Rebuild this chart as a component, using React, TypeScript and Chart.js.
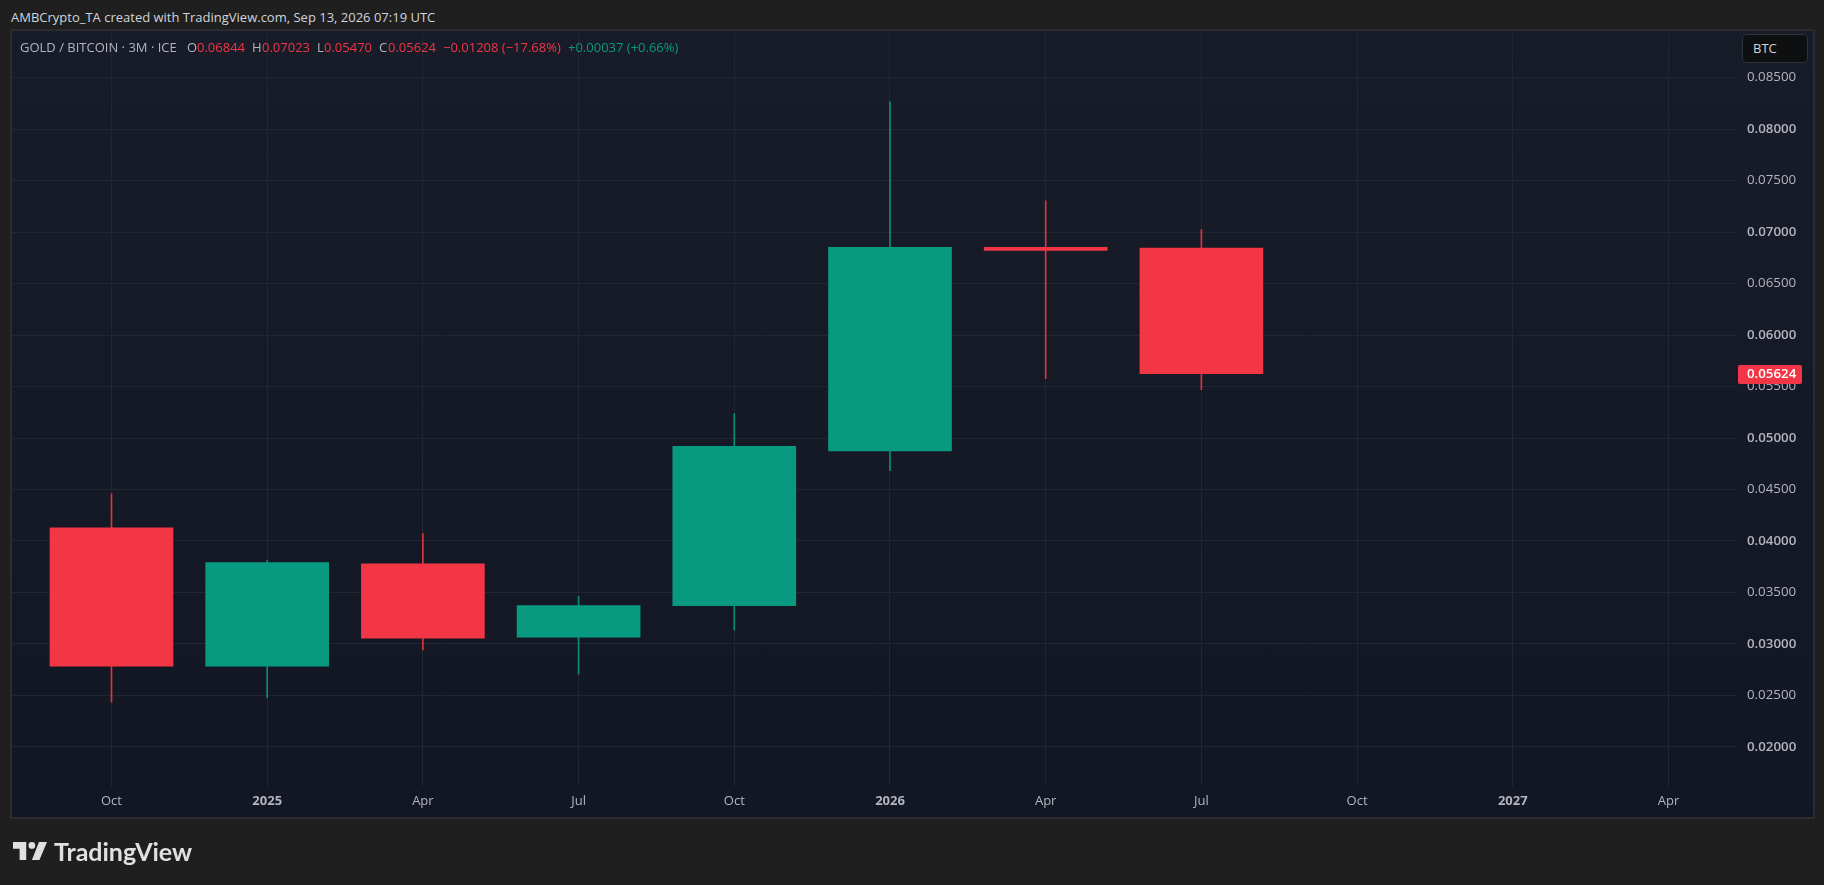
import React, { useEffect, useRef } from "react";
import { Chart, registerables } from "chart.js";

Chart.register(...registerables);

const QUARTER_LABELS = ["Oct", "2025", "Apr", "Jul", "Oct", "2026", "Apr", "Jul", "Oct", "2027", "Apr"];
const BOLD_LABELS = ["2025", "2026", "2027"];
const OPENS = [0.04129, 0.02785, 0.03779, 0.03067, 0.03372, 0.04875, 0.06852, 0.06844];
const HIGHS = [0.04457, 0.03813, 0.04073, 0.03463, 0.05236, 0.08263, 0.07303, 0.07023];
const LOWS = [0.02435, 0.0248, 0.02943, 0.02706, 0.03135, 0.04683, 0.05575, 0.0547];
const CLOSES = [0.02785, 0.0379, 0.03056, 0.03372, 0.0492, 0.06851, 0.06822, 0.05624];
const LAST_PRICE = 0.05624;

const UP = "#089981";
const DOWN = "#f23645";
const FONT = '"Open Sans", "Noto Sans", sans-serif';

const candleColors = OPENS.map((o, i) => (CLOSES[i] >= o ? UP : DOWN));
const wickColors = OPENS.map((o, i) => (CLOSES[i] >= o ? "rgba(8,153,129,0.9)" : "rgba(242,54,69,0.9)"));

const lastPricePlugin = {
  id: "lastPrice",
  afterDraw(chart: any) {
    const { ctx, scales } = chart;
    const y = scales.y.getPixelForValue(LAST_PRICE);
    ctx.save();
    ctx.fillStyle = DOWN;
    ctx.beginPath();
    ctx.roundRect(1738, Math.round(y) - 9, 64, 19, 2);
    ctx.fill();
    ctx.fillStyle = "#ffffff";
    ctx.font = "600 13.3px " + FONT;
    ctx.textBaseline = "middle";
    ctx.textAlign = "left";
    ctx.fillText(LAST_PRICE.toFixed(5), 1747, y + 0.5);
    ctx.restore();
  },
};

const abs = (x: number, y: number, color: string, size = 13): React.CSSProperties => ({
  position: "absolute",
  left: x,
  top: y,
  color,
  fontFamily: FONT,
  fontSize: size,
  lineHeight: "18px",
  whiteSpace: "nowrap",
});

export default function App() {
  const ref = useRef<HTMLCanvasElement>(null);
  useEffect(() => {
    document.body.style.margin = "0";
    document.body.style.background = "#1f1f1f";
    const chart = new Chart(ref.current!, {
      type: "bar",
      data: {
        datasets: [
          {
            label: "Wick",
            data: LOWS.map((l, i) => ({ x: i, y: [l, HIGHS[i]] })) as any,
            backgroundColor: wickColors,
            barThickness: 1,
            grouped: false,
          } as any,
          {
            label: "Body",
            data: OPENS.map((o, i) => ({ x: i, y: [o, CLOSES[i]] })) as any,
            backgroundColor: candleColors,
            barThickness: 123,
            grouped: false,
          } as any,
        ],
      },
      plugins: [lastPricePlugin],
      options: {
        animation: false,
        responsive: false,
        devicePixelRatio: 1,
        layout: { padding: { left: 12, top: 31.5, right: 11, bottom: 68.5 } },
        plugins: { legend: { display: false }, tooltip: { enabled: false } },
        scales: {
          x: {
            type: "linear",
            offset: false,
            min: -0.639,
            max: 10.44,
            afterFit: (s: any) => { s.height = 31; },
            border: { display: false },
            grid: { color: "#222631", offset: false, drawTicks: false, lineWidth: 1 },
            ticks: {
              stepSize: 1,
              includeBounds: false,
              padding: 8,
              maxRotation: 0,
              autoSkip: false,
              color: "#b2b5be",
              font: (c: any) => ({
                family: FONT,
                size: 13,
                weight: BOLD_LABELS.includes(QUARTER_LABELS[c.tick?.value]) ? 700 : 400,
              }),
              callback: (v: any) => QUARTER_LABELS[v] ?? "",
            },
          },
          y: {
            type: "linear",
            position: "right",
            min: 0.01626,
            max: 0.08947,
            afterFit: (s: any) => { s.width = 76; },
            border: { display: false },
            grid: { color: "#222631", drawTicks: false, lineWidth: 1 },
            ticks: {
              stepSize: 0.005,
              includeBounds: false,
              padding: 10,
              autoSkip: false,
              color: "#b2b5be",
              font: (c: any) => ({
                family: FONT,
                size: 13.3,
                weight: Math.round((c.tick?.value ?? 0) * 1000) % 10 === 0 ? 600 : 400,
              }),
              callback: (v: any) => Number(v).toFixed(5),
            },
          },
        },
      },
    } as any);
    return () => chart.destroy();
  }, []);

  return (
    <div style={{ position: "absolute", left: 0, top: 0, width: 1824, height: 885, background: "#1f1f1f", overflow: "hidden" }}>
      <div style={abs(11, 8, "#d1d4dc")}>AMBCrypto_TA created with TradingView.com, Sep 13, 2026 07:19 UTC</div>
      <div
        style={{
          position: "absolute",
          left: 10,
          top: 29,
          width: 1801,
          height: 786,
          border: "2px solid #2a2c2f",
          background: "linear-gradient(180deg, #181b28 0%, #131723 100%)",
        }}
      />
      <canvas ref={ref} width={1824} height={885} style={{ position: "absolute", left: 0, top: 0 }} />
      <div style={abs(20, 38, "#b2b5be")}>GOLD / BITCOIN · 3M · ICE</div>
      <div style={abs(187, 38, "#b2b5be")}>O</div>
      <div style={abs(197, 38, DOWN)}>0.06844</div>
      <div style={abs(252, 38, "#b2b5be")}>H</div>
      <div style={abs(262, 38, DOWN)}>0.07023</div>
      <div style={abs(317, 38, "#b2b5be")}>L</div>
      <div style={abs(324, 38, DOWN)}>0.05470</div>
      <div style={abs(379, 38, "#b2b5be")}>C</div>
      <div style={abs(388, 38, DOWN)}>0.05624</div>
      <div style={abs(443, 38, DOWN)}>−0.01208 (−17.68%)</div>
      <div style={abs(568, 38, UP)}>+0.00037 (+0.66%)</div>
      <div
        style={{
          position: "absolute",
          left: 1742,
          top: 34,
          width: 66,
          height: 29,
          boxSizing: "border-box",
          background: "#0e0f11",
          border: "1px solid #303338",
          borderRadius: 5,
          color: "#d1d4dc",
          fontFamily: FONT,
          fontSize: 13,
          lineHeight: "27px",
          paddingLeft: 10,
        }}
      >
        BTC
      </div>
      <svg style={{ position: "absolute", left: 13, top: 842 }} width="34" height="18" viewBox="0 0 36 19" fill="#e0e0e0">
        <path d="M14 19H7V7H0V0h14v19zM28 19h-8L27.5 0H36l-8 19z" />
        <circle cx="20" cy="3.6" r="3.6" />
      </svg>
      <div style={{ position: "absolute", left: 54, top: 835, color: "#e0e0e0", fontFamily: "Lato, sans-serif", fontWeight: 700, fontSize: 25, lineHeight: "32px" }}>
        TradingView
      </div>
    </div>
  );
}
